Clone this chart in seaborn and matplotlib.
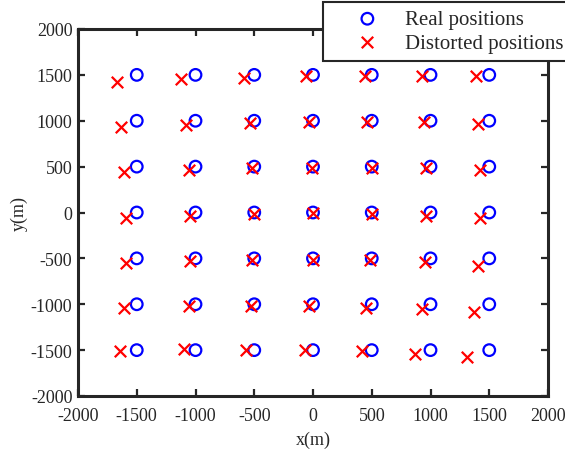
import numpy as np
import pandas as pd
import matplotlib
matplotlib.use("Agg")
import matplotlib.pyplot as plt
import seaborn as sns

# Grid of nominal positions (m)
grid_x = [-1500, -1000, -500, 0, 500, 1000, 1500]
grid_y = [1500, 1000, 500, 0, -500, -1000, -1500]

# Distorted positions, one row per grid row (top to bottom)
dist_x_rows = [
    [-1671, -1124, -588, -60, 439, 924, 1386],
    [-1631, -1081, -539, -34, 459, 944, 1408],
    [-1608, -1058, -516, -6, 502, 964, 1423],
    [-1594, -1047, -505, 3, 502, 964, 1423],
    [-1594, -1044, -516, -3, 487, 949, 1400],
    [-1608, -1058, -525, -32, 453, 929, 1371],
    [-1645, -1095, -573, -69, 416, 872, 1314],
]
dist_y_rows = [
    [1420, 1456, 1471, 1485, 1485, 1485, 1489],
    [931, 949, 975, 985, 985, 985, 967],
    [445, 467, 489, 489, 489, 482, 464],
    [-55, -36, -18, 0, -18, -36, -55],
    [-551, -525, -518, -518, -518, -544, -580],
    [-1044, -1018, -1018, -1018, -1044, -1055, -1087],
    [-1511, -1493, -1500, -1500, -1511, -1544, -1580],
]

real = pd.DataFrame(
    [(x, y) for y in grid_y for x in grid_x], columns=["x", "y"]
)
distorted = pd.DataFrame(
    {
        "x": np.ravel(dist_x_rows),
        "y": np.ravel(dist_y_rows),
    }
)

sns.set_theme(style="white")
plt.rcParams["font.family"] = ["Liberation Serif", "DejaVu Serif"]
plt.rcParams["axes.unicode_minus"] = False

fig = plt.figure(figsize=(5.65, 4.52), dpi=100)
ax = fig.add_axes([78 / 565, 1 - 397 / 452, 470 / 565, 367 / 452])

sns.scatterplot(
    data=real, x="x", y="y", ax=ax, marker="o", s=70,
    facecolors="none", edgecolor="#0000ff", linewidth=1.6,
    label="Real positions", zorder=3,
)
sns.scatterplot(
    data=distorted, x="x", y="y", ax=ax, marker="x", s=68,
    color="#ff0000", linewidth=1.6,
    label="Distorted positions", zorder=4,
)

ax.set_xlim(-2000, 2000)
ax.set_ylim(-2000, 2000)
ax.set_xticks(np.arange(-2000, 2001, 500))
ax.set_yticks(np.arange(-2000, 2001, 500))
ax.tick_params(direction="in", length=5, width=1.6, color="#262626",
               labelsize=13, labelcolor="#262626",
               top=True, right=True, bottom=True, left=True)
ax.tick_params(axis="x", pad=8)
ax.tick_params(axis="y", pad=4)
for sp in ax.spines.values():
    sp.set_visible(True)
    sp.set_linewidth(2.2)
    sp.set_color("#262626")

ax.set_xlabel("x(m)", fontsize=13, color="#262626", labelpad=5)
ax.set_ylabel("y(m)", fontsize=13, color="#262626", labelpad=2)

leg = ax.legend(
    loc="upper left", bbox_to_anchor=(323 / 565, 1 - 2.7 / 452),
    bbox_transform=fig.transFigure, fontsize=15, frameon=True,
    fancybox=False, edgecolor="#262626", framealpha=1,
    borderpad=0.38, labelspacing=0.2, handlelength=3.5, handletextpad=0.05,
    borderaxespad=0,
)
leg.get_frame().set_linewidth(1.5)
leg.set_zorder(10)

fig.savefig("out.png", dpi=100)
